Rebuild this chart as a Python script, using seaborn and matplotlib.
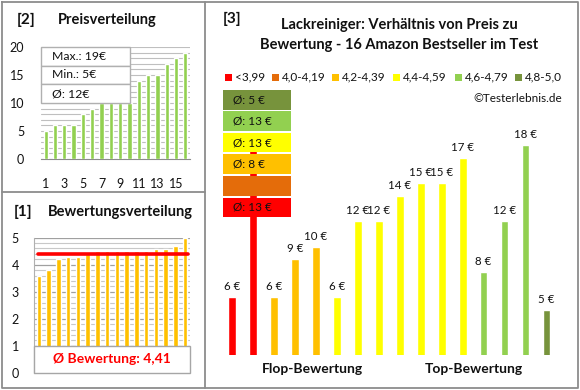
import math
import numpy as np
import pandas as pd
import matplotlib
matplotlib.use("Agg")
import matplotlib.pyplot as plt
from matplotlib.patches import Rectangle
from matplotlib.lines import Line2D
from matplotlib.ticker import MultipleLocator
import seaborn as sns

# ---------------- data ----------------
price_sorted = [5, 6, 6, 6, 8, 9, 10, 10, 10, 10, 14, 15, 15, 17, 18, 19]
price_tick_labels = ["1", "3", "5", "7", "9", "11", "13", "15"]
ratings_sorted = [3.6, 3.8, 4.2, 4.3, 4.3, 4.4, 4.5, 4.5, 4.5, 4.5, 4.5, 4.5, 4.6, 4.6, 4.7, 5.0]
products_price = [6, 19, 6, 9, 10, 6, 12, 12, 14, 15, 15, 17, 8, 12, 18, 5]
products_class = [0, 0, 2, 2, 2, 3, 3, 3, 3, 3, 3, 3, 4, 4, 4, 5]
class_labels = ["<3,99", "4,0-4,19", "4,2-4,39", "4,4-4,59", "4,6-4,79", "4,8-5,0"]
class_colors = ["#FF0000", "#E46C0A", "#FFC000", "#FFFF00", "#92D050", "#77933C"]

sns.set_style("white")
plt.rcParams['font.family'] = ['Lato', 'DejaVu Sans']

W, H = 580, 390
fig = plt.figure(figsize=(W / 100, H / 100), dpi=100)
fig.patch.set_facecolor("white")


def fx(x):
    return x / W


def fy(y):
    return 1 - y / H


def add_axes_px(x0, y0, x1, y1):
    return fig.add_axes([x0 / W, 1 - y1 / H, (x1 - x0) / W, (y1 - y0) / H])


def half_up(v):
    return int(math.floor(v + 0.5))


FRAME = "#8C8C8C"
TXT = "#111111"

# ---------------- frame lines ----------------
for xs, ys in [([1.5, 578, 578, 1.5, 1.5], [1.5, 1.5, 388, 388, 1.5]),
               ([205, 205], [1.5, 388]),
               ([1.5, 205], [192, 192])]:
    fig.add_artist(Line2D([fx(v) for v in xs], [fy(v) for v in ys],
                          transform=fig.transFigure, color=FRAME, lw=1.3))

# ---------------- [2] Preisverteilung ----------------
ax1 = add_axes_px(41, 47, 190, 159)
idx = list(range(len(price_sorted)))
sns.barplot(x=idx, y=price_sorted, color="#92D050", saturation=1, width=0.45,
            errorbar=None, ax=ax1, zorder=3)
ax1.set_ylim(0, 20)
ax1.set_yticks([0, 5, 10, 15, 20])
ax1.yaxis.set_minor_locator(MultipleLocator(1))
ax1.grid(axis='y', which='both', color='#BFBFBF', lw=0.8)
ax1.grid(axis='x', visible=False)
ax1.set_axisbelow(True)
ax1.set_xticks(idx[::2])
ax1.set_xticklabels(price_tick_labels)
ax1.tick_params(axis='both', which='both', length=0, labelsize=9, colors=TXT)
ax1.tick_params(axis='x', pad=14)
ax1.tick_params(axis='y', pad=12)
for s in ["top", "right", "left"]:
    ax1.spines[s].set_visible(False)
ax1.spines["bottom"].set_color("#8C8C8C")
ax1.set_xlabel("")
ax1.set_ylabel("")

# info table
pmax = max(products_price)
pmin = min(products_price)
pavg = half_up(np.mean(products_price))
stats = [f"Max.: {pmax}€", f"Min.: {pmin}€", f"Ø: {pavg}€"]
bx0, bx1 = 0.0, (130 - 41) / 149
for i, s in enumerate(stats):
    top = 1 - i / 6
    ax1.add_patch(Rectangle((bx0, top - 1 / 6), bx1 - bx0, 1 / 6, transform=ax1.transAxes,
                            facecolor="white", edgecolor="#B0B0B0", lw=1, zorder=10,
                            clip_on=False))
    ax1.text(0.075, top - 1 / 12, s, transform=ax1.transAxes, ha='left', va='center',
             fontsize=8.8, color=TXT, zorder=11)

fig.text(fx(17), fy(20), "[2]", fontsize=11, fontweight='bold', va='center', color=TXT)
fig.text(fx(58), fy(20), "Preisverteilung", fontsize=10.5, fontweight='bold', va='center', color=TXT)

# ---------------- [1] Bewertungsverteilung ----------------
ax2 = add_axes_px(34, 237.7, 190, 372.7)
sns.barplot(x=idx, y=ratings_sorted, color="#FFC000", saturation=1, width=0.44,
            errorbar=None, ax=ax2, zorder=3)
ax2.set_ylim(0, 5)
ax2.set_yticks([0, 1, 2, 3, 4, 5])
ax2.yaxis.set_minor_locator(MultipleLocator(0.2))
ax2.grid(axis='y', which='minor', color='#C8C8C8', lw=0.8)
ax2.grid(axis='y', which='major', color='#A0A0A0', lw=0.9)
ax2.grid(axis='x', visible=False)
ax2.set_axisbelow(True)
ax2.set_xticks([])
ax2.tick_params(axis='y', which='major', length=4, width=0.9, color='#8C8C8C',
                labelsize=9, labelcolor=TXT, pad=7)
ax2.tick_params(axis='y', which='minor', length=0)
for s in ["top", "right", "bottom"]:
    ax2.spines[s].set_visible(False)
ax2.spines["left"].set_color("#B0B0B0")
ax2.set_xlabel("")
ax2.set_ylabel("")
mean_rating = float(np.mean(ratings_sorted))
ax2.axhline(mean_rating, xmin=0.025, xmax=0.985, color="#FF0000", lw=2.6, zorder=6)
ax2.add_patch(Rectangle((0, 0), 1, 0.2, transform=ax2.transAxes, facecolor="white",
                        edgecolor="#A6A6A6", lw=1, zorder=8, clip_on=False))
ax2.text(0.5, 0.1, "Ø Bewertung: " + f"{mean_rating:.2f}".replace(".", ","),
         transform=ax2.transAxes, ha='center', va='center', fontsize=10,
         fontweight='bold', color="#FF0000", zorder=9)

fig.text(fx(14), fy(212), "[1]", fontsize=11, fontweight='bold', va='center', color=TXT)
fig.text(fx(48), fy(212), "Bewertungsverteilung", fontsize=10.5, fontweight='bold', va='center', color=TXT)

# ---------------- [3] price vs rating ----------------
ax3 = add_axes_px(221.5, 90, 557, 355)
bar_colors = [class_colors[c] for c in products_class]
sns.barplot(x=idx, y=products_price, hue=idx, palette=bar_colors, legend=False,
            saturation=1, width=0.37, errorbar=None, ax=ax3)
ybot = 1.46
px_per_eur = 12.7
ax3.set_ylim(ybot, ybot + 265 / px_per_eur)
ax3.set_xlim(-0.5, len(idx) - 0.5)
ax3.axis("off")

# class average boxes (top: best class) -- they cover the tall bars beneath them
box_x0, box_x1 = 223, 291
box_top, box_h, box_step = 90, 19.5, 21.5
n_cls = len(class_labels)
boxes_bottom_px = box_top + (n_cls - 1) * box_step + box_h
covered_value = ybot + (355 - boxes_bottom_px) / px_per_eur
covered_max_idx = (box_x1 - 221.5) / 21.0 - 0.5

for i, p in enumerate(products_price):
    if i <= covered_max_idx and p > covered_value:
        continue  # label is hidden behind the average boxes
    ax3.annotate(f"{p} €", (i, p), xytext=(0, 3.5), textcoords='offset points',
                 ha='center', va='bottom', fontsize=8.3, color=TXT, zorder=2)

df = pd.DataFrame({"price": products_price, "cls": products_class})
class_avg = df.groupby("cls")["price"].mean()
for k, c in enumerate(reversed(range(n_cls))):
    y0 = box_top + k * box_step
    fig.add_artist(Rectangle((fx(box_x0), fy(y0 + box_h)), (box_x1 - box_x0) / W, box_h / H,
                             transform=fig.transFigure, facecolor=class_colors[c],
                             edgecolor='none', zorder=5))
    if c in class_avg.index:
        fig.text(fx(233), fy(y0 + box_h / 2), f"Ø: {half_up(class_avg[c])} €",
                 fontsize=8.5, va='center', ha='left', color=TXT, zorder=6)

# legend row
sq_x = [225, 272, 332, 393, 455, 515]
for x, lab, col in zip(sq_x, class_labels, class_colors):
    fig.add_artist(Rectangle((fx(x), fy(80.5)), 6.5 / W, 6.5 / H, transform=fig.transFigure,
                             facecolor=col, edgecolor='none'))
    fig.text(fx(x + 9.5), fy(77), lab, fontsize=8.5, va='center', ha='left', color=TXT)

fig.text(fx(562), fy(98), "©Testerlebnis.de", fontsize=8.5, va='center', ha='right', color=TXT)
fig.text(fx(223), fy(19), "[3]", fontsize=11, fontweight='bold', va='center', color=TXT)
fig.text(fx(399), fy(25), "Lackreiniger: Verhältnis von Preis zu", fontsize=10.5,
         fontweight='bold', va='center', ha='center', color=TXT)
fig.text(fx(399), fy(45), "Bewertung - 16 Amazon Bestseller im Test", fontsize=10.5,
         fontweight='bold', va='center', ha='center', color=TXT)
fig.text(fx(312), fy(369), "Flop-Bewertung", fontsize=10, fontweight='bold',
         va='center', ha='center', color=TXT)
fig.text(fx(474), fy(369), "Top-Bewertung", fontsize=10, fontweight='bold',
         va='center', ha='center', color=TXT)

fig.savefig("out.png", dpi=100, facecolor="white")
